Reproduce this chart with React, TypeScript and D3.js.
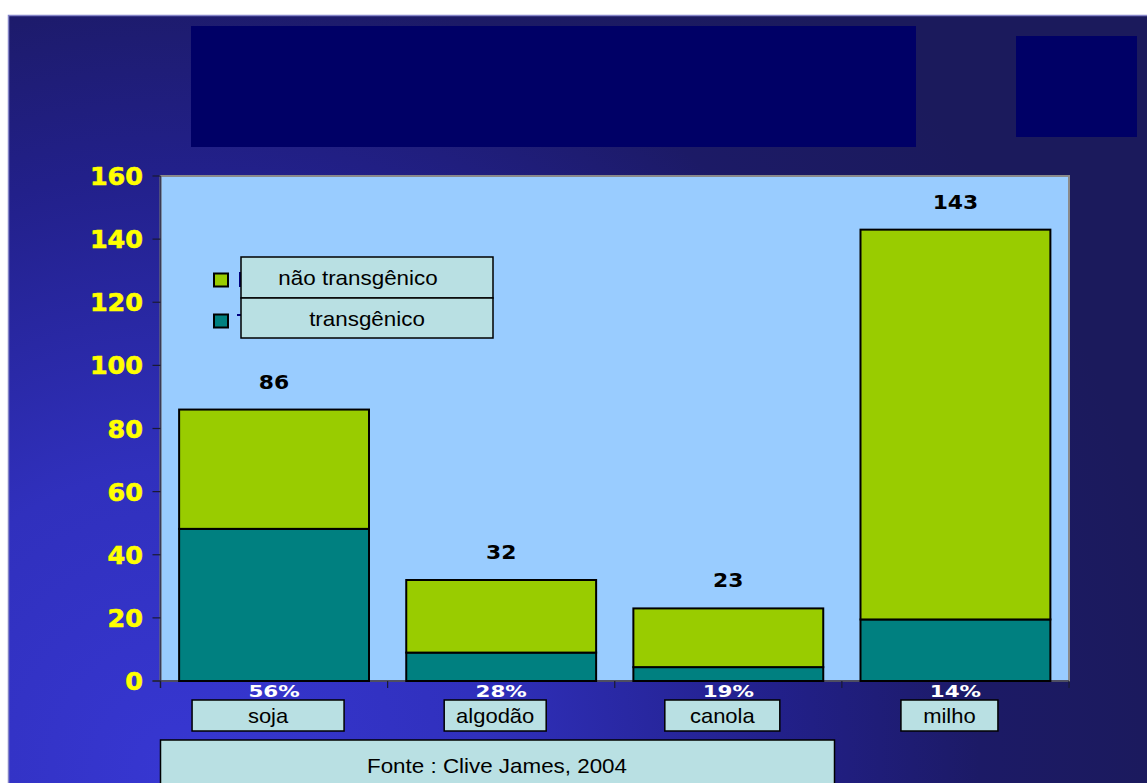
import React from "react";
import * as d3 from "d3";

// ---------- data ----------
const categories = ["soja", "algodão", "canola", "milho"];
const transgenico = [48.2, 9, 4.4, 19.5];
const naoTransgenico = [37.8, 23, 18.6, 123.5];
const totals = [86, 32, 23, 143];
const percentLabels = ["56%", "28%", "19%", "14%"];
const yTicks = [0, 20, 40, 60, 80, 100, 120, 140, 160];
const seriesNames = ["não transgênico", "transgênico"];
const sourceText = "Fonte : Clive James, 2004";

// ---------- layout / style ----------
const W = 1147;
const H = 783;
const plot = { left: 160.5, right: 1069, top: 176, bottom: 681 };
const labelBoxWidths = [152, 102, 115, 97];
const GREEN = "#99cc00";
const TEAL = "#008080";
const PLOT_BG = "#99ccff";
const BOX_BG = "#b9e0e3";
const NAVY = "#000066";

function StretchText({ x, y, sx = 1, anchor = "middle", children, ...rest }: any) {
  return (
    <text transform={`translate(${x},${y}) scale(${sx},1)`} textAnchor={anchor} {...rest}>
      {children}
    </text>
  );
}

export default function App() {
  const x = d3
    .scaleBand<string>()
    .domain(categories)
    .range([plot.left, plot.right])
    .paddingInner(0.164)
    .paddingOuter(0.082);
  const y = d3.scaleLinear().domain([0, 160]).range([plot.bottom, plot.top]);

  const rows = categories.map((c, i) => ({
    cat: c,
    transgenico: transgenico[i],
    nao: naoTransgenico[i],
  }));
  const stack = d3.stack<any>().keys(["transgenico", "nao"])(rows);
  const colors: Record<string, string> = { transgenico: TEAL, nao: GREEN };

  const step = x.step();
  const boundaries = d3.range(categories.length + 1).map((i) => plot.left + i * step);

  return (
    <svg
      width={W}
      height={H}
      style={{ position: "fixed", left: 0, top: 0, display: "block" }}
      fontFamily="'Liberation Sans', Arial, sans-serif"
    >
      <defs>
        <radialGradient id="bg" gradientUnits="userSpaceOnUse" cx={180} cy={770} r={1000}>
          <stop offset="0" stopColor="#3737d2" />
          <stop offset="0.3" stopColor="#3030bd" />
          <stop offset="0.6" stopColor="#22208a" />
          <stop offset="0.8" stopColor="#1c1a66" />
          <stop offset="1" stopColor="#1b1a5c" />
        </radialGradient>
      </defs>
      <rect x={0} y={0} width={W} height={H} fill="#ffffff" />
      <rect x={8.5} y={15.5} width={W + 20} height={H + 20} fill="url(#bg)" stroke="#8585c8" strokeWidth={1.5} />

      {/* title blocks */}
      <rect x={191} y={26} width={725} height={121} fill={NAVY} />
      <rect x={1016} y={36} width={121} height={101} fill={NAVY} />

      {/* plot area */}
      <rect
        x={plot.left}
        y={plot.top}
        width={plot.right - plot.left}
        height={plot.bottom - plot.top}
        fill={PLOT_BG}
        stroke="#8a8a8a"
        strokeWidth={2}
      />
      <line x1={plot.left} x2={plot.left} y1={plot.top} y2={plot.bottom + 7} stroke="#3a3a55" strokeWidth={1.5} />
      <line x1={plot.left - 8} x2={plot.right} y1={plot.bottom} y2={plot.bottom} stroke="#3a3a55" strokeWidth={1.5} />

      {/* y axis */}
      {yTicks.map((t) => (
        <g key={t}>
          <line x1={plot.left - 8} x2={plot.left} y1={y(t)} y2={y(t)} stroke="#1a1a33" strokeWidth={1.2} />
          <StretchText
            x={143}
            y={y(t) + 9}
            sx={1.06}
            anchor="end"
            fill="#ffff00"
            fontFamily="'DejaVu Sans', Verdana, sans-serif"
            fontWeight="bold"
            fontSize={24}
            stroke="#ffff00"
            strokeWidth={0.6}
          >
            {t}
          </StretchText>
        </g>
      ))}

      {/* x axis ticks */}
      {boundaries.map((bx, i) => (
        <line key={i} x1={bx} x2={bx} y1={plot.bottom} y2={plot.bottom + 7} stroke="#1a1a33" strokeWidth={1.2} />
      ))}

      {/* bars */}
      {stack.map((s) => (
        <g key={s.key}>
          {s.map((d, i) => (
            <rect
              key={i}
              x={x(categories[i])!}
              y={y(d[1])}
              width={x.bandwidth()}
              height={y(d[0]) - y(d[1])}
              fill={colors[s.key]}
              stroke="#000000"
              strokeWidth={2}
            />
          ))}
        </g>
      ))}

      {/* value labels */}
      {categories.map((c, i) => (
        <StretchText
          key={c}
          x={x(c)! + x.bandwidth() / 2}
          y={y(totals[i]) - 21}
          sx={1.15}
          fill="#000000"
          fontFamily="'DejaVu Sans', Verdana, sans-serif"
          fontWeight="bold"
          fontSize={19}
        >
          {totals[i]}
        </StretchText>
      ))}

      {/* percent labels */}
      {categories.map((c, i) => (
        <StretchText
          key={c}
          x={x(c)! + x.bandwidth() / 2}
          y={plot.bottom + 16}
          sx={1.3}
          fill="#ffffff"
          fontFamily="'DejaVu Sans', Verdana, sans-serif"
          fontWeight="bold"
          fontSize={16.5}
        >
          {percentLabels[i]}
        </StretchText>
      ))}

      {/* category label boxes */}
      {categories.map((c, i) => {
        const cx = x(c)! + x.bandwidth() / 2 - 6;
        const bw = labelBoxWidths[i];
        return (
          <g key={c}>
            <rect x={cx - bw / 2} y={700} width={bw} height={31} fill={BOX_BG} stroke="#000" strokeWidth={1.5} />
            <StretchText x={cx} y={723} sx={1.1} fill="#000" fontSize={20}>
              {c}
            </StretchText>
          </g>
        );
      })}

      {/* source box */}
      <rect x={160.5} y={740} width={674} height={60} fill={BOX_BG} stroke="#000" strokeWidth={1.5} />
      <StretchText x={497} y={773} sx={1.12} fill="#000" fontSize={20}>
        {sourceText}
      </StretchText>

      {/* legend */}
      <g>
        <rect x={214} y={273.5} width={14} height={13} fill={GREEN} stroke="#000" strokeWidth={2} />
        <rect x={214} y={314.5} width={14} height={13} fill={TEAL} stroke="#000" strokeWidth={2} />
        {/* slivers of the legend text hidden behind the overlay boxes */}
        <line x1={240} x2={240} y1={272} y2={287} stroke="#000080" strokeWidth={2} />
        <line x1={237} x2={241} y1={315} y2={315} stroke="#000080" strokeWidth={2} />
        <rect x={241} y={257} width={252} height={41} fill={BOX_BG} stroke="#000" strokeWidth={1.5} />
        <rect x={241} y={298} width={252} height={40} fill={BOX_BG} stroke="#000" strokeWidth={1.5} />
        <StretchText x={358} y={285} sx={1.12} fill="#000" fontSize={20}>
          {seriesNames[0]}
        </StretchText>
        <StretchText x={367} y={326} sx={1.12} fill="#000" fontSize={20}>
          {seriesNames[1]}
        </StretchText>
      </g>
    </svg>
  );
}
